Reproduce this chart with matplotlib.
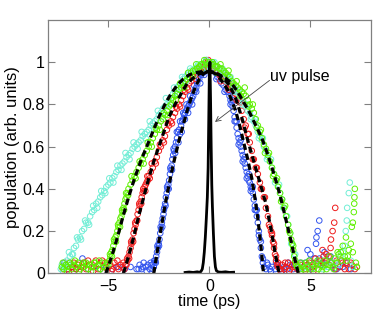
import matplotlib
matplotlib.use("Agg")
import matplotlib.pyplot as plt

# ---------------- data ----------------
cyan_x = [-7.35,-7.3,-7.25,-7.2,-7.15,-7.1,-7.05,-7.0,-6.9,-6.8,-6.7,-6.6,-6.5,-6.4,-6.3,-6.2,-6.1,-6.0,
          -5.9,-5.8,-5.7,-5.6,-5.5,-5.4,-5.3,-5.2,-5.1,-5.0,-4.9,-4.8,-4.7,-4.6,-4.5,-4.4,-4.3,-4.2,-4.1,-4.0,
          -3.9,-3.8,-3.7,-3.6,-3.5,-3.4,-3.3,-3.2,-3.1,-3.0,-2.9,-2.8,-2.7,-2.6,-2.5,-2.4,-2.3,-2.2,-2.1,-2.0,
          -1.9,-1.8,-1.7,-1.6,-1.5,-1.4,-1.3,-1.2,-1.1,-1.0,-0.9,-0.8,-0.7,-0.6,-0.5,-0.4,-0.3,-0.2,-0.1,0.0,
          0.1,0.2,0.3,0.4,0.5,0.6,0.7,0.8,0.9,1.0,1.1,1.2,1.3,1.4,1.5,1.6,1.7,1.8,1.9,2.0,
          2.1,2.2,2.3,2.4,2.5,2.6,2.7,2.8,2.9,3.0,3.1,3.2,3.3,3.4,3.5,3.6,3.7,3.8,3.9,4.0,
          4.1,4.2,4.3,4.4,4.6,4.8,5.0,5.3,5.6,5.9,6.2,6.4,6.5,6.6,6.7,6.75,6.8,6.82,6.9,6.95,7.0,7.1]
cyan_y = [0.02,0.04,0.01,0.03,0.05,0.03,0.06,0.05,0.08,0.09,0.12,0.13,0.16,0.17,0.2,0.21,0.24,0.24,
          0.27,0.29,0.3,0.33,0.34,0.36,0.37,0.39,0.41,0.42,0.43,0.45,0.46,0.48,0.49,0.51,0.52,0.53,0.55,0.56,
          0.57,0.59,0.6,0.61,0.62,0.63,0.65,0.66,0.67,0.68,0.7,0.71,0.72,0.73,0.75,0.76,0.78,0.79,0.8,0.82,
          0.83,0.85,0.86,0.88,0.89,0.9,0.92,0.93,0.94,0.95,0.96,0.96,0.97,0.98,0.98,0.99,0.99,1.0,0.99,1.0,
          0.99,0.99,0.98,0.98,0.97,0.96,0.95,0.94,0.93,0.92,0.9,0.89,0.87,0.86,0.84,0.83,0.81,0.79,0.77,0.76,
          0.74,0.72,0.7,0.67,0.65,0.63,0.6,0.58,0.55,0.53,0.5,0.47,0.44,0.41,0.38,0.35,0.31,0.27,0.23,0.19,
          0.14,0.09,0.05,0.03,0.02,0.03,0.02,0.04,0.02,0.03,0.05,0.04,0.08,0.1,0.13,0.2,0.25,0.31,0.38,0.43,0.06,0.03]
cyan2_x = [-6.95,-6.75,-6.55,-6.35,-6.15,-5.95,-5.75,-5.55,-5.35,-5.15,-4.95,-4.75,-4.55,-4.35,-4.15,-3.95,
           -3.75,-3.55,-3.35,-3.15,-2.95,-2.75,-2.55,-2.35,-2.15,-1.95,-1.75,-1.55,-1.35,-1.15,-0.95,-0.75,
           -0.55,-0.35,-0.15,0.05,0.25,0.45,0.65,0.85,1.05,1.25,1.45,1.65,1.85,2.05,2.25,2.45,2.65,2.85,
           3.05,3.25,3.45,3.65,3.85,4.05,4.25,4.45]
cyan2_y = [0.1,0.09,0.17,0.16,0.25,0.23,0.32,0.31,0.39,0.38,0.45,0.43,0.51,0.49,0.57,0.54,
           0.62,0.59,0.67,0.64,0.72,0.69,0.77,0.74,0.83,0.8,0.88,0.85,0.93,0.91,0.97,0.94,
           0.99,0.96,1.01,0.97,1.0,0.95,0.97,0.91,0.93,0.86,0.87,0.8,0.8,0.73,0.73,0.64,0.64,0.54,
           0.54,0.43,0.42,0.31,0.27,0.14,0.09,0.03]

green_x = [-7.3,-7.2,-7.1,-7.0,-6.9,-6.8,-6.7,-6.6,-6.5,-6.4,-6.3,-6.2,-6.1,-6.0,-5.9,-5.8,-5.7,-5.6,-5.5,-5.4,
           -5.3,-5.2,-5.1,-5.0,-4.95,-4.9,-4.85,-4.8,-4.75,-4.7,-4.65,-4.6,-4.55,-4.5,-4.45,-4.4,-4.35,-4.3,-4.25,
           -4.2,-4.15,-4.1,-4.05,-4.0,-3.9,-3.8,-3.7,-3.6,-3.5,-3.4,-3.3,-3.2,-3.1,-3.0,-2.9,-2.8,-2.7,-2.6,-2.5,
           -2.4,-2.3,-2.2,-2.1,-2.0,-1.9,-1.8,-1.7,-1.6,-1.5,-1.4,-1.3,-1.2,-1.1,-1.0,-0.9,-0.8,-0.7,-0.6,-0.5,
           -0.4,-0.3,-0.2,-0.1,0.0,0.1,0.2,0.3,0.4,0.5,0.6,0.7,0.8,0.9,1.0,1.1,1.2,1.3,1.4,1.5,1.6,1.7,1.8,1.9,
           2.0,2.1,2.2,2.3,2.4,2.5,2.6,2.7,2.8,2.9,3.0,3.1,3.2,3.3,3.4,3.5,3.6,3.7,3.8,3.9,4.0,4.05,4.1,4.15,4.2,
           4.25,4.3,4.4,4.5,4.6,4.7,4.8,4.9,5.0,5.1,5.2,5.3,5.4,5.5,5.6,5.7,5.8,5.9,6.0,6.1,6.2,6.3,6.4,6.5,6.6,
           6.7,6.76,6.8,6.9,7.0,7.05,7.1,7.15,7.17,7.18,7.2,7.25,7.3]
green_y = [0.03,0.02,0.04,0.03,0.05,0.02,0.04,0.03,0.05,0.02,0.04,0.03,0.05,0.02,0.04,0.03,0.05,0.03,0.04,0.02,
           0.05,0.03,0.04,0.04,0.06,0.08,0.1,0.11,0.13,0.15,0.17,0.18,0.2,0.22,0.24,0.26,0.27,0.29,0.31,
           0.33,0.35,0.36,0.38,0.4,0.42,0.44,0.46,0.48,0.5,0.52,0.54,0.56,0.58,0.6,0.62,0.64,0.66,0.68,0.7,
           0.72,0.73,0.75,0.77,0.79,0.8,0.82,0.84,0.85,0.87,0.88,0.9,0.91,0.92,0.93,0.95,0.96,0.96,0.97,0.98,
           0.99,0.99,1.0,0.99,1.0,0.99,0.99,0.98,0.98,0.97,0.97,0.96,0.95,0.94,0.93,0.91,0.9,0.89,0.88,0.87,0.86,0.85,0.84,0.82,
           0.8,0.78,0.76,0.73,0.7,0.67,0.64,0.61,0.59,0.56,0.53,0.5,0.47,0.44,0.41,0.38,0.35,0.31,0.27,0.23,0.19,0.16,0.14,0.11,0.08,
           0.06,0.04,0.03,0.02,0.04,0.02,0.05,0.03,0.02,0.04,0.03,0.05,0.02,0.04,0.03,0.06,0.02,0.04,0.05,0.03,0.07,0.05,0.09,0.1,0.13,
           0.08,0.17,0.06,0.11,0.14,0.22,0.24,0.29,0.33,0.36,0.4,0.05,0.03]
green2_x = [-7.25,-7.05,-6.85,-6.65,-6.45,-6.25,-6.05,-5.85,-5.65,-5.45,-5.25,-5.05,
            -4.92,-4.82,-4.72,-4.62,-4.52,-4.42,-4.32,-4.22,-4.12,-4.02,-3.85,-3.65,-3.45,-3.25,-3.05,-2.85,
            -2.65,-2.45,-2.25,-2.05,-1.85,-1.65,-1.45,-1.25,-1.05,-0.85,-0.65,-0.45,-0.25,-0.05,0.15,0.35,
            0.55,0.75,0.95,1.15,1.35,1.55,1.75,1.95,2.15,2.35,2.55,2.75,2.95,3.15,3.35,3.55,3.75,3.95,4.15,4.35,
            4.55,4.75,4.95,5.15,5.35,5.55,5.75,5.95,6.15,6.35,6.55,6.85,7.1]
green2_y = [0.05,0.01,0.04,0.06,0.01,0.05,0.04,0.01,0.05,0.06,0.01,0.05,
            0.09,0.08,0.16,0.15,0.23,0.22,0.3,0.3,0.38,0.37,0.46,0.45,0.53,0.52,0.62,0.6,
            0.69,0.68,0.76,0.75,0.83,0.82,0.9,0.88,0.95,0.93,0.99,0.96,1.01,0.97,1.0,0.95,
            0.99,0.93,0.96,0.88,0.91,0.84,0.88,0.79,0.8,0.69,0.68,0.57,0.57,0.46,0.45,0.34,0.32,0.2,0.13,0.03,
            0.05,0.01,0.06,0.02,0.06,0.01,0.04,0.08,0.02,0.1,0.06,0.08,0.1]

red_x = [-7.25,-7.1,-7.0,-6.9,-6.75,-6.6,-6.5,-6.35,-6.2,-6.1,-5.95,-5.8,-5.62,-5.5,-5.3,-5.2,-5.05,-4.9,-4.8,-4.7,
         -4.6,-4.5,-4.4,-4.3,-4.2,-4.15,-4.1,-4.05,-4.0,-3.95,-3.9,-3.85,-3.8,-3.75,-3.7,-3.65,-3.6,-3.55,-3.5,-3.45,
         -3.4,-3.35,-3.3,-3.25,-3.2,-3.15,-3.1,-3.05,-3.0,-2.9,-2.8,-2.7,-2.6,-2.5,-2.4,-2.3,-2.2,-2.1,-2.0,-1.9,
         -1.8,-1.7,-1.6,-1.5,-1.4,-1.3,-1.2,-1.1,-1.0,-0.9,-0.8,-0.7,-0.6,-0.5,-0.4,-0.3,-0.2,-0.1,0.0,0.1,0.2,
         0.3,0.4,0.5,0.6,0.7,0.8,0.9,1.0,1.1,1.2,1.3,1.4,1.5,1.6,1.7,1.8,1.9,2.0,2.1,2.2,2.3,2.4,2.5,2.6,2.7,
         2.8,2.9,3.0,3.05,3.1,3.15,3.2,3.25,3.3,3.35,3.4,3.5,3.6,3.7,3.8,3.9,4.0,4.1,4.2,4.35,4.5,4.65,4.8,4.95,
         5.1,5.25,5.4,5.5,5.6,5.7,5.8,5.9,6.0,6.02,6.1,6.18,6.23,6.3,6.45,6.6,6.76,6.9,7.05,7.2,7.3]
red_y = [0.02,0.04,0.02,0.05,0.03,0.02,0.04,0.03,0.05,0.02,0.04,0.03,0.06,0.02,0.06,0.03,0.02,0.04,0.02,0.05,
         0.03,0.02,0.04,0.03,0.02,0.04,0.04,0.06,0.08,0.1,0.12,0.14,0.16,0.19,0.21,0.23,0.25,0.28,0.3,0.32,
         0.34,0.36,0.38,0.39,0.41,0.42,0.43,0.44,0.46,0.48,0.5,0.53,0.55,0.58,0.6,0.63,0.65,0.68,0.7,0.72,
         0.74,0.76,0.78,0.8,0.82,0.84,0.86,0.88,0.9,0.91,0.93,0.94,0.95,0.96,0.97,0.98,0.99,1.0,0.99,0.98,0.97,
         0.96,0.95,0.94,0.93,0.92,0.91,0.9,0.9,0.88,0.87,0.85,0.84,0.81,0.77,0.73,0.7,0.66,0.62,0.58,0.54,0.5,0.47,0.43,0.4,0.36,
         0.31,0.27,0.22,0.2,0.18,0.15,0.12,0.09,0.06,0.04,0.03,0.02,0.04,0.02,0.03,0.05,0.02,0.04,0.03,0.02,0.04,0.03,0.02,0.05,
         0.03,0.07,0.04,0.06,0.11,0.05,0.09,0.08,0.12,0.16,0.2,0.24,0.31,0.06,0.03,0.05,0.05,0.02,0.04,0.02,0.03]
red2_x = [-7.15,-6.95,-6.7,-6.45,-6.25,-6.0,-5.75,-5.45,-5.15,-4.85,-4.55,-4.25,
          -4.07,-3.97,-3.87,-3.77,-3.67,-3.57,-3.47,-3.37,-3.27,-3.17,-3.07,-2.95,-2.85,-2.65,-2.45,-2.25,
          -2.05,-1.85,-1.65,-1.45,-1.25,-1.05,-0.85,-0.65,-0.45,-0.25,-0.05,0.15,0.35,0.55,0.75,0.95,1.15,
          1.35,1.55,1.75,1.95,2.15,2.35,2.55,2.75,2.95,3.1,3.2,3.3,3.4,
          3.55,3.75,3.95,4.25,4.55,4.85,5.15,5.35,5.65,5.95,6.25,6.5,6.7,7.0]
red2_y = [0.05,0.01,0.05,0.01,0.03,0.06,0.01,0.04,0.05,0.01,0.06,0.05,
          0.07,0.07,0.15,0.15,0.24,0.25,0.33,0.33,0.4,0.39,0.46,0.45,0.52,0.52,0.61,0.62,
          0.71,0.71,0.79,0.79,0.87,0.87,0.94,0.92,0.98,0.96,1.01,0.96,0.98,0.91,0.94,0.87,0.9,
          0.82,0.81,0.69,0.66,0.54,0.5,0.4,0.36,0.23,0.19,0.14,0.08,0.05,
          0.01,0.05,0.01,0.05,0.01,0.04,0.01,0.04,0.08,0.04,0.02,0.06,0.02,0.05]

blue_x = [-7.18,-7.0,-6.8,-6.6,-6.28,-6.0,-5.7,-5.4,-5.1,-4.8,-4.5,-4.2,-3.9,-3.6,-3.45,-3.35,-3.25,-3.15,-3.05,-2.95,
          -2.85,-2.8,-2.75,-2.71,-2.67,-2.63,-2.59,-2.55,-2.51,-2.47,-2.43,-2.39,-2.35,-2.31,-2.27,-2.23,-2.19,-2.15,
          -2.11,-2.07,-2.03,-1.99,-1.95,-1.91,-1.87,-1.83,-1.79,-1.75,-1.7,-1.65,-1.6,-1.55,-1.5,-1.45,-1.4,-1.35,
          -1.3,-1.25,-1.2,-1.15,-1.1,-1.05,-1.0,-0.95,-0.9,-0.85,-0.8,-0.75,-0.7,-0.65,-0.6,-0.5,-0.4,-0.3,-0.2,
          -0.1,0.0,0.1,0.2,0.3,0.4,0.5,0.6,0.7,0.8,0.9,1.0,1.05,1.1,1.15,1.2,1.25,1.3,1.35,1.4,1.45,1.5,1.55,1.6,
          1.65,1.7,1.75,1.8,1.85,1.9,1.95,2.0,2.05,2.1,2.15,2.2,2.25,2.3,2.35,2.4,2.45,2.5,2.55,2.6,2.65,2.7,2.8,
          2.9,3.0,3.1,3.25,3.4,3.55,3.7,3.85,4.0,4.15,4.3,4.5,4.65,4.86,4.95,5.0,5.1,5.2,5.28,5.3,5.36,5.44,5.45,
          5.55,5.7,5.8,5.9,6.05,6.2,6.4,6.6,6.8,7.0]
blue_y = [0.05,0.02,0.03,0.02,0.07,0.02,0.03,0.02,0.03,0.02,0.03,0.02,0.03,0.02,0.04,0.02,0.05,0.03,0.04,0.02,
          0.04,0.02,0.03,0.05,0.06,0.08,0.1,0.12,0.14,0.16,0.19,0.21,0.24,0.26,0.28,0.31,0.33,0.36,
          0.38,0.4,0.42,0.44,0.47,0.49,0.51,0.54,0.56,0.58,0.6,0.62,0.64,0.67,0.68,0.66,0.7,0.72,
          0.73,0.75,0.76,0.77,0.78,0.79,0.8,0.81,0.82,0.83,0.84,0.86,0.87,0.88,0.9,0.92,0.94,0.95,0.97,
          0.99,1.0,0.99,0.97,0.95,0.93,0.92,0.9,0.89,0.87,0.86,0.84,0.82,0.81,0.79,0.77,0.74,0.72,0.69,0.66,0.64,0.62,0.6,0.58,
          0.56,0.54,0.52,0.5,0.48,0.46,0.44,0.43,0.41,0.4,0.38,0.35,0.32,0.3,0.27,0.24,0.2,0.16,0.12,0.08,0.05,0.03,0.02,
          0.04,0.02,0.03,0.02,0.04,0.02,0.03,0.02,0.04,0.02,0.03,0.05,0.03,0.11,0.06,0.09,0.04,0.07,0.14,0.17,0.2,0.25,0.07,
          0.04,0.1,0.06,0.03,0.05,0.02,0.04,0.03,0.05,0.02]
blue2_x = [-3.5,-3.3,-3.1,-2.9,
           -2.73,-2.65,-2.57,-2.49,-2.41,-2.33,-2.25,-2.17,-2.09,-2.01,-1.93,-1.85,-1.77,-1.69,-1.61,-1.53,
           -1.45,-1.37,-1.29,-1.21,-1.13,-1.05,-0.95,-0.85,-0.75,-0.65,-0.55,-0.45,-0.35,-0.25,-0.15,-0.05,
           0.15,0.35,0.55,0.75,0.95,1.05,1.15,1.25,1.35,1.45,1.55,1.65,1.75,1.85,1.95,2.05,2.15,2.25,2.35,
           2.45,2.55,2.65,
           2.85,3.05,3.3,3.6,3.9,4.2,4.4,4.75,5.05,5.6,6.0,6.3]
blue2_y = [0.02,0.03,0.01,0.05,
           0.06,0.05,0.13,0.13,0.22,0.22,0.3,0.32,0.41,0.4,0.5,0.49,0.59,0.57,0.67,0.62,
           0.72,0.67,0.76,0.73,0.8,0.76,0.84,0.8,0.89,0.86,0.93,0.9,0.97,0.94,1.01,0.97,
           1.0,0.92,0.94,0.86,0.87,0.8,0.82,0.72,0.72,0.61,0.63,0.53,0.55,0.45,0.47,0.39,0.41,0.3,0.3,
           0.18,0.15,0.07,
           0.05,0.01,0.05,0.01,0.05,0.04,0.02,0.05,0.02,0.05,0.08,0.02]

fit_green_x = [-5.12,-4.8,-4.55,-4.3,-4.0,-3.7,-3.4,-3.1,-2.8,-2.5,-2.2,-1.9,-1.6,-1.3,-1.0,-0.7,-0.4,-0.1,
               0.2,0.5,0.8,1.1,1.4,1.7,2.0,2.3,2.6,2.9,3.2,3.5,3.8,4.05,4.25,4.4]
fit_green_y = [0.0,0.09,0.17,0.26,0.36,0.45,0.53,0.6,0.67,0.74,0.8,0.85,0.89,0.92,0.94,0.95,0.955,0.955,
               0.95,0.94,0.925,0.9,0.86,0.81,0.76,0.7,0.64,0.56,0.47,0.37,0.25,0.15,0.06,0.0]
fit_red_x = [-4.25,-4.0,-3.75,-3.5,-3.25,-3.0,-2.75,-2.5,-2.25,-2.0,-1.7,-1.4,-1.1,-0.8,-0.5,-0.2,0.1,0.4,
             0.7,1.0,1.3,1.6,1.9,2.2,2.5,2.8,3.05,3.25,3.45]
fit_red_y = [0.0,0.08,0.17,0.27,0.36,0.45,0.53,0.6,0.67,0.74,0.8,0.85,0.9,0.925,0.945,0.955,0.955,0.945,
             0.925,0.89,0.83,0.74,0.63,0.53,0.43,0.33,0.21,0.1,0.0]
fit_blue_x = [-2.75,-2.6,-2.43,-2.25,-2.1,-1.95,-1.8,-1.65,-1.5,-1.3,-1.1,-0.9,-0.7,-0.5,-0.3,-0.1,0.1,0.3,
              0.5,0.7,0.9,1.1,1.3,1.5,1.7,1.9,2.1,2.25,2.4,2.55,2.68]
fit_blue_y = [0.0,0.09,0.19,0.29,0.37,0.44,0.51,0.57,0.63,0.7,0.77,0.83,0.88,0.92,0.945,0.955,0.955,0.945,
              0.925,0.9,0.87,0.82,0.77,0.7,0.62,0.54,0.45,0.36,0.26,0.13,0.0]

pulse_x = [-1.2,-1.0,-0.8,-0.6,-0.5,-0.42,-0.35,-0.3,-0.25,-0.2,-0.15,-0.1,-0.06,-0.03,0.0,0.03,0.06,0.09,
           0.12,0.15,0.2,0.25,0.3,0.35,0.45,0.6,0.8,1.0,1.2]
pulse_y = [0.004,0.006,0.004,0.007,0.005,0.008,0.02,0.05,0.1,0.17,0.26,0.36,0.5,0.72,0.95,1.0,0.82,0.6,
           0.42,0.32,0.19,0.08,0.03,0.012,0.006,0.005,0.007,0.004,0.005]

x_ticks = [-5, 0, 5]
y_ticks = [0, 0.2, 0.4, 0.6, 0.8, 1]
y_ticklabels = ["0", "0.2", "0.4", "0.6", "0.8", "1"]
x_label = "time (ps)"
y_label = "population (arb. units)"
annot_text = "uv pulse"

# ---------------- plot ----------------
plt.rcParams['font.family'] = ['Liberation Sans', 'DejaVu Sans']
W, H = 374, 310
fig = plt.figure(figsize=(W / 100, H / 100), dpi=100)
ax = fig.add_axes([47.7 / W, 1 - 273.3 / H, (371 - 47.7) / W, (273.3 - 20) / H])

mk = dict(s=16, facecolors='none', linewidths=0.7)
ax.scatter(blue_x + blue2_x, blue_y + blue2_y, edgecolors='#3355ee', **mk)
ax.scatter(red_x + red2_x, red_y + red2_y, edgecolors='#ee1c1c', **mk)
ax.scatter(cyan_x + cyan2_x, cyan_y + cyan2_y, edgecolors='#72eed6', **mk)
ax.scatter(green_x + green2_x, green_y + green2_y, edgecolors='#5ef000', **mk)

for fx, fy in [(fit_green_x, fit_green_y), (fit_red_x, fit_red_y), (fit_blue_x, fit_blue_y)]:
    ax.plot(fx, fy, color='black', lw=2.3, dashes=(2.0, 1.2))

ax.plot(pulse_x, pulse_y, color='black', lw=2.0)

ax.text(2.98, 0.934, annot_text, fontsize=11.5, ha='left', va='center')
ax.annotate('', xy=(0.28, 0.717), xytext=(2.98, 0.914),
            arrowprops=dict(arrowstyle='->', color='#444444', lw=0.6,
                            shrinkA=0, shrinkB=0, mutation_scale=9))

ax.set_xlim(-8, 8)
ax.set_ylim(0, 1.2)
ax.set_xticks(x_ticks)
ax.set_yticks(y_ticks)
ax.set_yticklabels(y_ticklabels)
ax.tick_params(direction='in', length=5, width=0.8, color='#808080',
               top=True, right=True, labelsize=11.5)
ax.tick_params(axis='x', pad=4)
ax.tick_params(axis='y', pad=2)
for sp in ax.spines.values():
    sp.set_color('#808080')
    sp.set_linewidth(0.9)
ax.set_xlabel(x_label, fontsize=11.5, labelpad=0)
ax.set_ylabel(y_label, fontsize=12, labelpad=2)

fig.savefig('out.png', dpi=100)
